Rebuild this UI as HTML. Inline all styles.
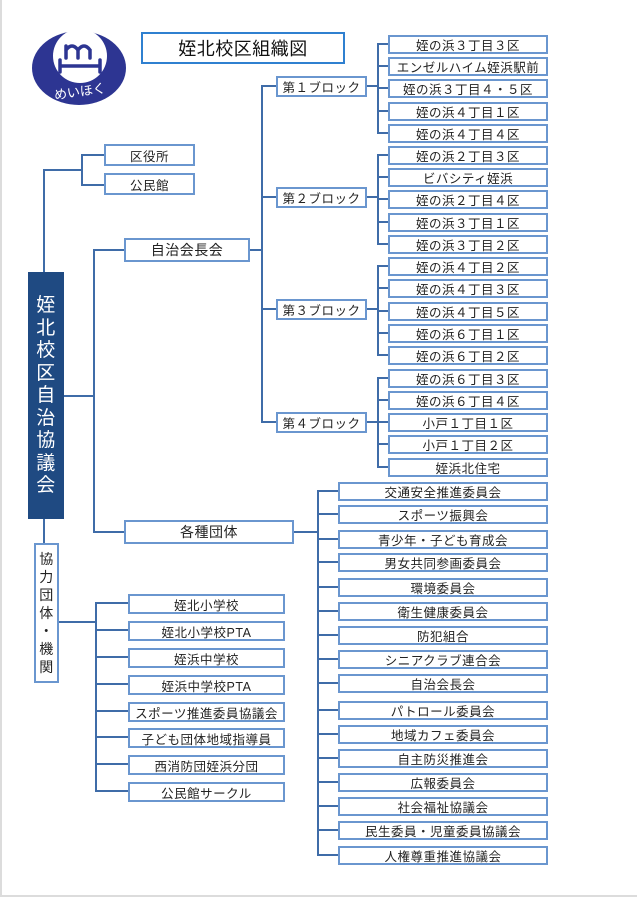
<!DOCTYPE html>
<html><head><meta charset="utf-8"><style>
body{margin:0;width:639px;height:900px;position:relative;background:#fff;overflow:hidden;font-family:"Liberation Sans","Noto Sans CJK JP",sans-serif;}
.frame{position:absolute;left:0;top:0;width:637px;height:897px;border-left:2px solid #dcdcdc;border-bottom:2px solid #dcdcdc;box-sizing:border-box;}
.b{position:absolute;box-sizing:border-box;border:2px solid #6a96cf;background:#fff;color:#222;font-size:12.5px;display:flex;align-items:center;justify-content:center;white-space:nowrap;letter-spacing:0.5px;}
svg{position:absolute;left:0;top:0;}
</style></head><body>
<div class="frame"></div>
<svg width="639" height="900">
<g stroke="#3f6ca8" stroke-width="2" fill="none">
<!-- left top -->
<polyline points="44,272 44,170 82,170"/>
<polyline points="104,155 82,155 82,185 104,185"/>
<!-- main to 自治/各種 -->
<line x1="64" y1="396" x2="94" y2="396"/>
<polyline points="124,250 94,250 94,532 124,532"/>
<!-- 自治会長会 -> blocks -->
<line x1="250" y1="250" x2="262" y2="250"/>
<polyline points="276,86 262,86 262,422 276,422"/>
<line x1="262" y1="197" x2="276" y2="197"/>
<line x1="262" y1="309" x2="276" y2="309"/>
<!-- block brackets -->
<g id="br"></g>
<line x1="366" y1="86" x2="378" y2="86"/>
<line x1="366" y1="197" x2="378" y2="197"/>
<line x1="366" y1="309" x2="378" y2="309"/>
<line x1="366" y1="422" x2="378" y2="422"/>
<polyline points="388,44 378,44 378,133 388,133"/>
<polyline points="388,155 378,155 378,244 388,244"/>
<polyline points="388,266 378,266 378,355 388,355"/>
<polyline points="388,378 378,378 378,467 388,467"/>
<line x1="378" y1="66" x2="388" y2="66"/><line x1="378" y1="88" x2="388" y2="88"/><line x1="378" y1="111" x2="388" y2="111"/>
<line x1="378" y1="177" x2="388" y2="177"/><line x1="378" y1="199" x2="388" y2="199"/><line x1="378" y1="222" x2="388" y2="222"/>
<line x1="378" y1="288" x2="388" y2="288"/><line x1="378" y1="311" x2="388" y2="311"/><line x1="378" y1="333" x2="388" y2="333"/>
<line x1="378" y1="400" x2="388" y2="400"/><line x1="378" y1="422" x2="388" y2="422"/><line x1="378" y1="444" x2="388" y2="444"/>
<!-- 各種団体 -->
<line x1="294" y1="532" x2="318" y2="532"/>
<polyline points="338,491 318,491 318,855 338,855"/>
<line x1="318" y1="514" x2="338" y2="514"/><line x1="318" y1="539" x2="338" y2="539"/><line x1="318" y1="562" x2="338" y2="562"/>
<line x1="318" y1="587" x2="338" y2="587"/><line x1="318" y1="611" x2="338" y2="611"/><line x1="318" y1="635" x2="338" y2="635"/>
<line x1="318" y1="659" x2="338" y2="659"/><line x1="318" y1="683" x2="338" y2="683"/><line x1="318" y1="710" x2="338" y2="710"/>
<line x1="318" y1="734" x2="338" y2="734"/><line x1="318" y1="758" x2="338" y2="758"/><line x1="318" y1="782" x2="338" y2="782"/>
<line x1="318" y1="806" x2="338" y2="806"/><line x1="318" y1="830" x2="338" y2="830"/>
<!-- 協力団体 -->
<line x1="44" y1="519" x2="44" y2="543"/>
<line x1="58" y1="622" x2="96" y2="622"/>
<polyline points="128,603 96,603 96,791 128,791"/>
<line x1="96" y1="630" x2="128" y2="630"/><line x1="96" y1="657" x2="128" y2="657"/><line x1="96" y1="684" x2="128" y2="684"/>
<line x1="96" y1="711" x2="128" y2="711"/><line x1="96" y1="737" x2="128" y2="737"/><line x1="96" y1="764" x2="128" y2="764"/>
</g>
<!-- logo -->
<ellipse cx="79" cy="68" rx="47" ry="37" fill="#2d3592"/>
<circle cx="80" cy="56" r="27" fill="#fff"/>
<g stroke="#2d3592" stroke-width="3.5" fill="none" stroke-linecap="round">
<path d="M66,58 L66,46 M66,50 Q72,42 78,50 L78,58 M78,50 Q84,42 90,50 L90,58"/>
<path d="M60,60 L60,72 M100,60 L100,72 M60,66 L100,66"/>
</g>
<text x="80" y="96" fill="#fff" font-size="13" text-anchor="middle" font-family="Noto Sans CJK JP,sans-serif" transform="rotate(-8 80 92)">めいほく</text>
</svg>

<div class="b" style="left:141px;top:32px;width:204px;height:32px;border:2.5px solid #2f80d0;font-size:18px;color:#111;">姪北校区組織図</div>

<div class="b" style="left:104px;top:144px;width:91px;height:22px;">区役所</div>
<div class="b" style="left:104px;top:173px;width:91px;height:22px;">公民館</div>

<div class="b" style="left:28px;top:272px;width:36px;height:247px;background:#1f4a82;border-color:#1f4a82;color:#fff;font-size:19px;line-height:22.5px;white-space:normal;text-align:center;padding-top:2px;">姪<br>北<br>校<br>区<br>自<br>治<br>協<br>議<br>会</div>

<div class="b" style="left:124px;top:238px;width:126px;height:24px;font-size:14px;">自治会長会</div>
<div class="b" style="left:124px;top:520px;width:170px;height:24px;font-size:14px;">各種団体</div>

<div class="b" style="left:276px;top:76px;width:91px;height:21px;">第１ブロック</div>
<div class="b" style="left:276px;top:187px;width:91px;height:21px;">第２ブロック</div>
<div class="b" style="left:276px;top:299px;width:91px;height:21px;">第３ブロック</div>
<div class="b" style="left:276px;top:412px;width:91px;height:21px;">第４ブロック</div>

<div class="b" style="left:388px;top:35px;width:160px;height:19px;">姪の浜３丁目３区</div>
<div class="b" style="left:388px;top:57px;width:160px;height:19px;">エンゼルハイム姪浜駅前</div>
<div class="b" style="left:388px;top:79px;width:160px;height:19px;">姪の浜３丁目４・５区</div>
<div class="b" style="left:388px;top:102px;width:160px;height:19px;">姪の浜４丁目１区</div>
<div class="b" style="left:388px;top:124px;width:160px;height:19px;">姪の浜４丁目４区</div>
<div class="b" style="left:388px;top:146px;width:160px;height:19px;">姪の浜２丁目３区</div>
<div class="b" style="left:388px;top:168px;width:160px;height:19px;">ビバシティ姪浜</div>
<div class="b" style="left:388px;top:190px;width:160px;height:19px;">姪の浜２丁目４区</div>
<div class="b" style="left:388px;top:213px;width:160px;height:19px;">姪の浜３丁目１区</div>
<div class="b" style="left:388px;top:235px;width:160px;height:19px;">姪の浜３丁目２区</div>
<div class="b" style="left:388px;top:257px;width:160px;height:19px;">姪の浜４丁目２区</div>
<div class="b" style="left:388px;top:279px;width:160px;height:19px;">姪の浜４丁目３区</div>
<div class="b" style="left:388px;top:302px;width:160px;height:19px;">姪の浜４丁目５区</div>
<div class="b" style="left:388px;top:324px;width:160px;height:19px;">姪の浜６丁目１区</div>
<div class="b" style="left:388px;top:346px;width:160px;height:19px;">姪の浜６丁目２区</div>
<div class="b" style="left:388px;top:369px;width:160px;height:19px;">姪の浜６丁目３区</div>
<div class="b" style="left:388px;top:391px;width:160px;height:19px;">姪の浜６丁目４区</div>
<div class="b" style="left:388px;top:413px;width:160px;height:19px;">小戸１丁目１区</div>
<div class="b" style="left:388px;top:435px;width:160px;height:19px;">小戸１丁目２区</div>
<div class="b" style="left:388px;top:458px;width:160px;height:19px;">姪浜北住宅</div>

<div class="b" style="left:338px;top:482px;width:210px;height:19px;">交通安全推進委員会</div>
<div class="b" style="left:338px;top:505px;width:210px;height:19px;">スポーツ振興会</div>
<div class="b" style="left:338px;top:530px;width:210px;height:19px;">青少年・子ども育成会</div>
<div class="b" style="left:338px;top:553px;width:210px;height:19px;">男女共同参画委員会</div>
<div class="b" style="left:338px;top:578px;width:210px;height:19px;">環境委員会</div>
<div class="b" style="left:338px;top:602px;width:210px;height:19px;">衛生健康委員会</div>
<div class="b" style="left:338px;top:626px;width:210px;height:19px;">防犯組合</div>
<div class="b" style="left:338px;top:650px;width:210px;height:19px;">シニアクラブ連合会</div>
<div class="b" style="left:338px;top:674px;width:210px;height:19px;">自治会長会</div>
<div class="b" style="left:338px;top:701px;width:210px;height:19px;">パトロール委員会</div>
<div class="b" style="left:338px;top:725px;width:210px;height:19px;">地域カフェ委員会</div>
<div class="b" style="left:338px;top:749px;width:210px;height:19px;">自主防災推進会</div>
<div class="b" style="left:338px;top:773px;width:210px;height:19px;">広報委員会</div>
<div class="b" style="left:338px;top:797px;width:210px;height:19px;">社会福祉協議会</div>
<div class="b" style="left:338px;top:821px;width:210px;height:19px;">民生委員・児童委員協議会</div>
<div class="b" style="left:338px;top:846px;width:210px;height:19px;">人権尊重推進協議会</div>

<div class="b" style="left:34px;top:543px;width:25px;height:140px;font-size:14px;line-height:18px;white-space:normal;text-align:center;">協<br>力<br>団<br>体<br>・<br>機<br>関</div>

<div class="b" style="left:128px;top:594px;width:157px;height:20px;">姪北小学校</div>
<div class="b" style="left:128px;top:621px;width:157px;height:20px;">姪北小学校PTA</div>
<div class="b" style="left:128px;top:648px;width:157px;height:20px;">姪浜中学校</div>
<div class="b" style="left:128px;top:675px;width:157px;height:20px;">姪浜中学校PTA</div>
<div class="b" style="left:128px;top:702px;width:157px;height:20px;">スポーツ推進委員協議会</div>
<div class="b" style="left:128px;top:728px;width:157px;height:20px;">子ども団体地域指導員</div>
<div class="b" style="left:128px;top:755px;width:157px;height:20px;">西消防団姪浜分団</div>
<div class="b" style="left:128px;top:782px;width:157px;height:20px;">公民館サークル</div>
</body></html>
